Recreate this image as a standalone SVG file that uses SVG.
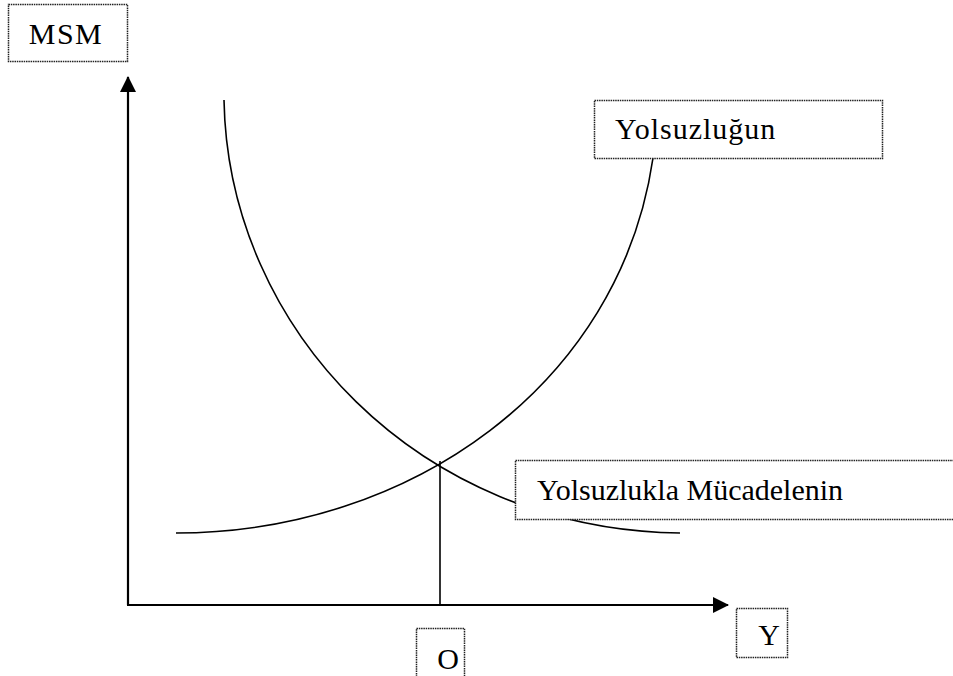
<svg xmlns="http://www.w3.org/2000/svg" width="953" height="676" viewBox="0 0 953 676">
<style>
.ax{stroke:#000;stroke-width:2.2;fill:none}
.cv{stroke:#000;stroke-width:1.6;fill:none}
.box{fill:#fff;stroke:#222;stroke-width:1.5;stroke-dasharray:1.5 0.8}
text{font-family:'Liberation Serif','Times New Roman','DejaVu Serif',serif;font-size:30px;fill:#000}
</style>
<defs>
<marker id="arr" markerWidth="16" markerHeight="16" refX="15" refY="8" orient="auto" markerUnits="userSpaceOnUse" viewBox="0 0 16 16">
<path d="M0,0 L16,8 L0,16 Z" fill="#000"/>
</marker>
</defs>
<rect width="953" height="676" fill="#fff"/>
<g id="connectors">
<path class="ax" d="M128,605 V77" marker-end="url(#arr)"/>
<path class="ax" d="M127,605 H728" marker-end="url(#arr)"/>
<path class="cv" d="M224,100 C228,330 420,530 680,533"/>
<path class="cv" d="M176,533 C410,533 620,385 653,158"/>
<path class="cv" d="M440,461 V605"/>
</g>
<g id="node-msm">
<rect class="box" x="8.5" y="4.5" width="119" height="57"/>
<text x="66" y="44" text-anchor="middle" font-family="Liberation Serif, serif" font-size="32" letter-spacing="1.5">MSM</text>
</g>
<g id="node-yolsuzlugun">
<rect class="box" x="594.5" y="100.5" width="288" height="58"/>
<text x="615" y="139" font-family="Liberation Serif, serif" font-size="32" letter-spacing="1">Yolsuzluğun</text>
</g>
<g id="node-mucadele">
<rect class="box" x="515.5" y="460.5" width="440" height="59"/>
<text x="537" y="500" font-family="Liberation Serif, serif" font-size="30">Yolsuzlukla Mücadelenin</text>
</g>
<g id="node-y">
<rect class="box" x="736.5" y="608.5" width="51" height="49"/>
<text x="769" y="645" text-anchor="middle" font-family="Liberation Serif, serif" font-size="30">Y</text>
</g>
<g id="node-o">
<rect class="box" x="416.5" y="628.5" width="48" height="52"/>
<text x="448" y="669" text-anchor="middle" font-family="Liberation Serif, serif" font-size="30">O</text>
</g>
</svg>
